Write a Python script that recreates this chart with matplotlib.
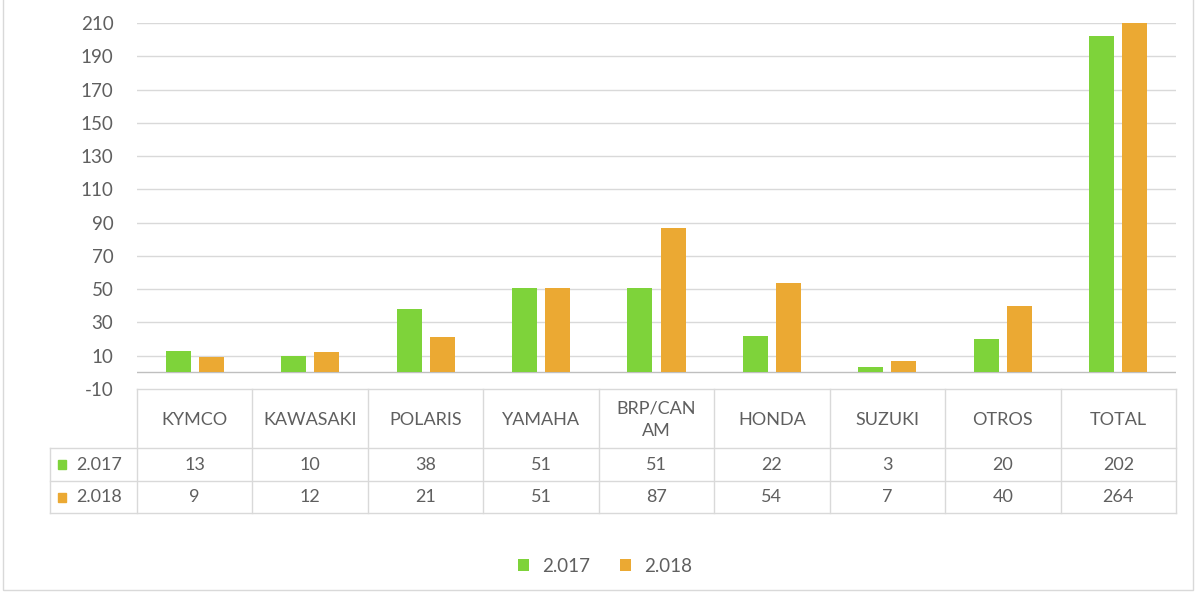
import matplotlib
matplotlib.use("Agg")
import matplotlib.pyplot as plt
from matplotlib.patches import Rectangle, Patch

plt.rcParams['font.family'] = ['Lato', 'DejaVu Sans']

categories = ["KYMCO", "KAWASAKI", "POLARIS", "YAMAHA", "BRP/CAN\nAM",
              "HONDA", "SUZUKI", "OTROS", "TOTAL"]
series_names = ["2.017", "2.018"]
values_2017 = [13, 10, 38, 51, 51, 22, 3, 20, 202]
values_2018 = [9, 12, 21, 51, 87, 54, 7, 40, 264]
yticks = [-10, 10, 30, 50, 70, 90, 110, 130, 150, 170, 190, 210]

colors = ["#7ED33A", "#EBA933"]
text_color = "#5F5F5F"
grid_color = "#D9D9D9"
FS = 13

W, H = 1195, 595
fig = plt.figure(figsize=(W / 100, H / 100), dpi=100)

def fx(px):
    return px / W

def fy(py):
    return 1 - py / H

# outer frame
fig.patches.append(Rectangle((fx(3), fy(590)), fx(1193) - fx(3), fy(-5) - fy(590),
                             transform=fig.transFigure, fill=False,
                             edgecolor="#D9D9D9", linewidth=1.0))

# --- bar axes ---
left_px, right_px = 137, 1176
top_px, bot_px = 23, 389
ax = fig.add_axes([fx(left_px), fy(bot_px), fx(right_px) - fx(left_px), fy(top_px) - fy(bot_px)])
n = len(categories)
x = list(range(n))
bw = 0.217
off = 0.1435
ax.set_xlim(-0.5, n - 0.5)
ax.set_ylim(-10, 210)
for t in yticks[1:]:
    ax.axhline(t, color=grid_color, linewidth=1.0, zorder=0)
ax.axhline(0, color="#BFBFBF", linewidth=1.0, zorder=0)
ax.bar([i - off for i in x], values_2017, width=bw, color=colors[0], zorder=2)
ax.bar([i + off for i in x], values_2018, width=bw, color=colors[1], zorder=2)
ax.set_yticks(yticks)
ax.set_yticklabels([str(t) for t in yticks], fontsize=FS + 0.5, color=text_color)
ax.tick_params(axis='y', length=0, pad=17)
ax.set_xticks([])
for s in ax.spines.values():
    s.set_visible(False)

# --- data table axes ---
tab_left_px, tab_top_px, tab_bot_px = 50, 389, 513
col_w_px = (right_px - left_px) / n
lab_w = (left_px - tab_left_px) / col_w_px
tax = fig.add_axes([fx(tab_left_px), fy(tab_bot_px), fx(right_px) - fx(tab_left_px),
                    fy(tab_top_px) - fy(tab_bot_px)])
tax.set_xlim(-0.5 - lab_w, n - 0.5)
tax.set_ylim(tab_bot_px - tab_top_px, 0)
tax.axis('off')
row_edges = [0, 59, 92, 124]
lc = dict(color=grid_color, linewidth=1.0, clip_on=False)
# header row top and vertical lines
tax.plot([-0.5, n - 0.5], [0, 0], **lc)
for i in range(n + 1):
    tax.plot([i - 0.5, i - 0.5], [0, row_edges[-1]], **lc)
# data rows
for r in row_edges[1:]:
    tax.plot([-0.5 - lab_w, n - 0.5], [r, r], **lc)
tax.plot([-0.5 - lab_w, -0.5 - lab_w], [row_edges[1], row_edges[-1]], **lc)

for i, c in enumerate(categories):
    tax.text(i, (row_edges[0] + row_edges[1]) / 2 + 1.5, c, ha='center', va='center',
             fontsize=FS, color=text_color, linespacing=1.5)
for r, (name, vals, col) in enumerate(zip(series_names, [values_2017, values_2018], colors)):
    yc = (row_edges[r + 1] + row_edges[r + 2]) / 2
    for i, v in enumerate(vals):
        tax.text(i, yc, str(v), ha='center', va='center', fontsize=FS, color=text_color)
    tax.add_patch(Rectangle((-0.5 - lab_w + 0.065, yc - 4.5), 0.075, 9, color=col,
                            clip_on=False))
    tax.text(-0.5 - lab_w + 0.23, yc, name, ha='left', va='center', fontsize=FS,
             color=text_color)

# legend
handles = [Patch(facecolor=c, edgecolor='none') for c in colors]
fig.legend(handles, series_names, loc='center', bbox_to_anchor=(fx(605), fy(566)),
           ncol=2, frameon=False, fontsize=FS + 0.5, labelcolor=text_color,
           handlelength=0.6, handleheight=0.6, handletextpad=0.7, columnspacing=1.6)

fig.savefig("out.png", dpi=100)
